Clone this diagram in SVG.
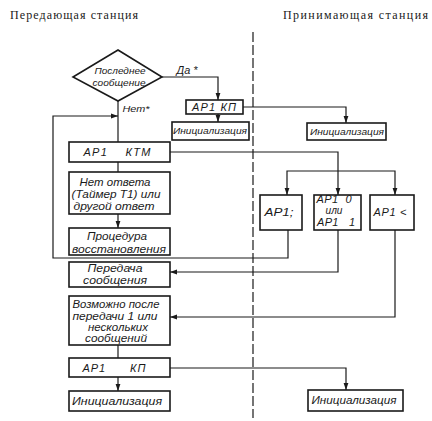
<svg xmlns="http://www.w3.org/2000/svg" width="432" height="421" viewBox="0 0 432 421">
<defs>
<marker id="arr" markerUnits="userSpaceOnUse" markerWidth="8" markerHeight="6" refX="7" refY="3" orient="auto">
<path d="M0,0.6 L7,3 L0,5.4 Z" fill="#1a1a1a"/>
</marker>
<style>
.box{fill:#fff;stroke:#1a1a1a;stroke-width:1.6}
.ln{fill:none;stroke:#1a1a1a;stroke-width:1.2}
.t{font-family:"Liberation Sans",Arial,sans-serif;font-style:italic;font-size:11px;fill:#1a1a1a;text-anchor:middle}
.s{font-size:9.5px}
.h{font-family:"Liberation Serif","Times New Roman",serif;font-size:12px;fill:#1a1a1a}
</style>
</defs>
<rect width="432" height="421" fill="#fff"/>
<text class="h" x="10" y="19" textLength="128" lengthAdjust="spacing">Передающая станция</text>
<text class="h" x="283" y="19" textLength="145" lengthAdjust="spacing">Принимающая станция</text>
<path d="M253,32 V418" fill="none" stroke="#1a1a1a" stroke-width="1.2" stroke-dasharray="10 3"/>
<g id="connectors">
<path class="ln" d="M162,77 H218 V100" marker-end="url(#arr)"/>
<path class="ln" d="M218,114 V122" marker-end="url(#arr)"/>
<path class="ln" d="M243,107 H346 V123" marker-end="url(#arr)"/>
<path class="ln" d="M118,101 V142"/>
<path class="ln" d="M288,230 V258 H53 V116 H118" marker-end="url(#arr)"/>
<path class="ln" d="M118,162 V172"/>
<path class="ln" d="M118,214 V228" marker-end="url(#arr)"/>
<path class="ln" d="M170,152 H338 V195" marker-end="url(#arr)"/>
<path class="ln" d="M338,171 H287 V195" marker-end="url(#arr)"/>
<path class="ln" d="M338,171 H395 V195" marker-end="url(#arr)"/>
<path class="ln" d="M338,230 V272 H170" marker-end="url(#arr)"/>
<path class="ln" d="M395,230 V317 H170" marker-end="url(#arr)"/>
<path class="ln" d="M118,345 V358"/>
<path class="ln" d="M118,377 V391" marker-end="url(#arr)"/>
<path class="ln" d="M170,368 H346 V390" marker-end="url(#arr)"/>
</g>
<text class="t" x="187" y="74" textLength="21" lengthAdjust="spacingAndGlyphs">Да *</text>
<text class="t s" x="136" y="112" textLength="27" lengthAdjust="spacingAndGlyphs">Нет*</text>
<g id="diamond">
<polygon class="box" points="118,50 162,77 118,101 73,77"/>
<text class="t s" x="120" y="74" textLength="51" lengthAdjust="spacingAndGlyphs">Последнее</text>
<text class="t s" x="119" y="86" textLength="53" lengthAdjust="spacingAndGlyphs">сообщение</text>
</g>
<g id="ap1kp-top">
<rect class="box" x="186" y="100" width="57" height="14"/>
<text class="t" x="214" y="111" textLength="44" lengthAdjust="spacing">АР1 КП</text>
</g>
<g id="init-left-top">
<rect class="box" x="172" y="122" width="77" height="18"/>
<text class="t s" x="210" y="134" textLength="74" lengthAdjust="spacingAndGlyphs">Инициализация</text>
</g>
<g id="init-right-top">
<rect class="box" x="307" y="123" width="79" height="17"/>
<text class="t s" x="347" y="135" textLength="74" lengthAdjust="spacingAndGlyphs">Инициализация</text>
</g>
<g id="ap1ktm">
<rect class="box" x="69" y="142" width="101" height="20"/>
<text class="t" x="117" y="156" textLength="67" lengthAdjust="spacing" xml:space="preserve">АР1    КТМ</text>
</g>
<g id="no-answer">
<rect class="box" x="69" y="172" width="101" height="42"/>
<text class="t" x="115" y="186" textLength="71" lengthAdjust="spacingAndGlyphs">Нет ответа</text>
<text class="t" x="116" y="198" textLength="89" lengthAdjust="spacingAndGlyphs">(Таймер Т1) или</text>
<text class="t" x="114" y="210" textLength="81" lengthAdjust="spacingAndGlyphs">другой ответ</text>
</g>
<g id="recovery">
<rect class="box" x="69" y="228" width="101" height="27"/>
<text class="t" x="117" y="240" textLength="60" lengthAdjust="spacingAndGlyphs">Процедура</text>
<text class="t" x="119" y="253" textLength="94" lengthAdjust="spacingAndGlyphs">восстановления</text>
</g>
<g id="ap1-semi">
<rect class="box" x="260" y="195" width="42" height="35"/>
<text class="t" x="279" y="216" textLength="29" lengthAdjust="spacingAndGlyphs">АР1;</text>
</g>
<g id="ap1-01">
<rect class="box" x="314" y="195" width="47" height="35"/>
<text class="t" x="334" y="203" textLength="35" lengthAdjust="spacing" xml:space="preserve">АР1  0</text>
<text class="t" x="334" y="214" textLength="17" lengthAdjust="spacingAndGlyphs">или</text>
<text class="t" x="336" y="226" textLength="38" lengthAdjust="spacing" xml:space="preserve">АР1   1</text>
</g>
<g id="ap1-lt">
<rect class="box" x="370" y="195" width="44" height="35"/>
<text class="t" x="390" y="216" textLength="33" lengthAdjust="spacing">АР1 &lt;</text>
</g>
<g id="transfer">
<rect class="box" x="69" y="262" width="101" height="25"/>
<text class="t" x="115" y="272" textLength="55" lengthAdjust="spacingAndGlyphs">Передача</text>
<text class="t" x="115" y="284" textLength="64" lengthAdjust="spacingAndGlyphs">сообщения</text>
</g>
<g id="possible">
<rect class="box" x="69" y="296" width="101" height="49"/>
<text class="t" x="116" y="308" textLength="87" lengthAdjust="spacingAndGlyphs">Возможно после</text>
<text class="t" x="115" y="320" textLength="85" lengthAdjust="spacingAndGlyphs">передачи 1 или</text>
<text class="t" x="118" y="331" textLength="60" lengthAdjust="spacingAndGlyphs">нескольких</text>
<text class="t" x="116" y="342" textLength="62" lengthAdjust="spacingAndGlyphs">сообщений</text>
</g>
<g id="ap1kp-bottom">
<rect class="box" x="69" y="358" width="101" height="19"/>
<text class="t" x="114" y="372" textLength="63" lengthAdjust="spacing" xml:space="preserve">АР1      КП</text>
</g>
<g id="init-left-bottom">
<rect class="box" x="69" y="391" width="101" height="20"/>
<text class="t" x="117" y="405" textLength="90" lengthAdjust="spacingAndGlyphs">Инициализация</text>
</g>
<g id="init-right-bottom">
<rect class="box" x="308" y="390" width="95" height="21"/>
<text class="t" x="354" y="404" textLength="85" lengthAdjust="spacingAndGlyphs">Инициализация</text>
</g>
</svg>
